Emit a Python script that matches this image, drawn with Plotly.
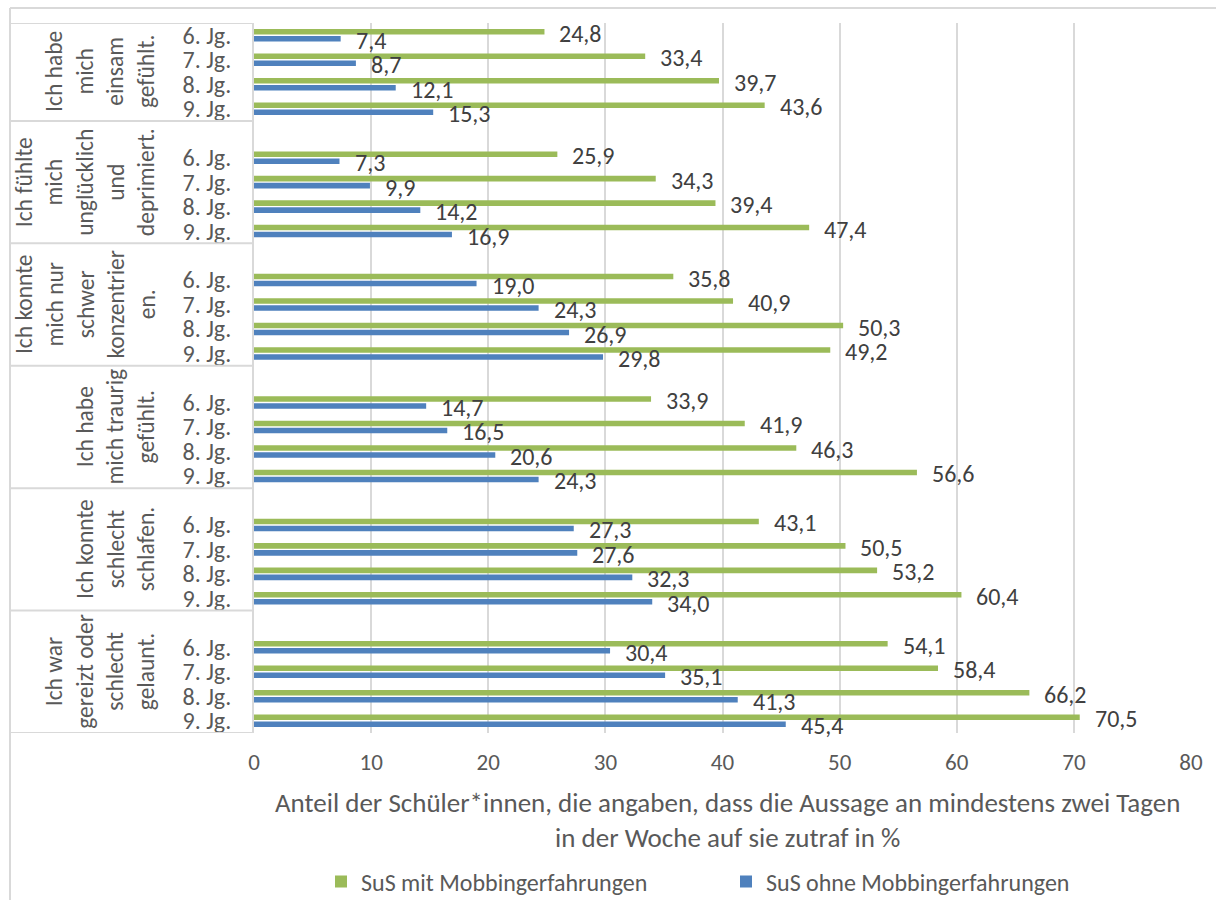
import plotly.graph_objects as go

groups = [
    "Ich habe<br>mich<br>einsam<br>gefühlt.",
    "Ich fühlte<br>mich<br>unglücklich<br>und<br>deprimiert.",
    "Ich konnte<br>mich nur<br>schwer<br>konzentrier<br>en.",
    "Ich habe<br>mich traurig<br>gefühlt.",
    "Ich konnte<br>schlecht<br>schlafen.",
    "Ich war<br>gereizt oder<br>schlecht<br>gelaunt.",
]
grades = ["6. Jg.", "7. Jg.", "8. Jg.", "9. Jg."]

mit = [
    [24.8, 33.4, 39.7, 43.6],
    [25.9, 34.3, 39.4, 47.4],
    [35.8, 40.9, 50.3, 49.2],
    [33.9, 41.9, 46.3, 56.6],
    [43.1, 50.5, 53.2, 60.4],
    [54.1, 58.4, 66.2, 70.5],
]
ohne = [
    [7.4, 8.7, 12.1, 15.3],
    [7.3, 9.9, 14.2, 16.9],
    [19.0, 24.3, 26.9, 29.8],
    [14.7, 16.5, 20.6, 24.3],
    [27.3, 27.6, 32.3, 34.0],
    [30.4, 35.1, 41.3, 45.4],
]
series_names = ["SuS mit Mobbingerfahrungen", "SuS ohne Mobbingerfahrungen"]
x_ticks = [0, 10, 20, 30, 40, 50, 60, 70, 80]
x_title = ("Anteil der Schüler*innen, die angaben, dass die Aussage an mindestens zwei Tagen"
           "<br>in der Woche auf sie zutraf in %")

GREEN = "#9BBB59"
BLUE = "#4F81BD"
GRID = "#D9D9D9"
FONT = "Carlito, Calibri, Lato, sans-serif"

# slot positions: each group has 4 grade slots, separated by one empty slot
pos, mit_flat, ohne_flat, tick_txt = [], [], [], []
for g in range(len(groups)):
    for j in range(len(grades)):
        pos.append(g * 5 + j)
        mit_flat.append(mit[g][j])
        ohne_flat.append(ohne[g][j])
        tick_txt.append(grades[j])

W, H = 1216, 900
L, R, T, B = 254, 25, 23, 167
PW, PH = W - L - R, H - T - B


def px2x(px):
    return (px - L) / PW


def py2y(py):
    return (H - B - py) / PH


def fmt(v):
    return f"{v:.1f}".replace(".", ",")


fig = go.Figure()
fig.add_trace(go.Bar(y=pos, x=mit_flat, orientation="h", name=series_names[0],
                     marker=dict(color=GREEN, line=dict(width=0))))
fig.add_trace(go.Bar(y=pos, x=ohne_flat, orientation="h", name=series_names[1],
                     marker=dict(color=BLUE, line=dict(width=0))))

annotations = []
off = 0.143
for p, vm, vo in zip(pos, mit_flat, ohne_flat):
    for v, dy in ((vm, -off), (vo, off)):
        annotations.append(dict(x=v, y=p + dy, xref="x", yref="y", text=fmt(v),
                                showarrow=False, xanchor="left", yanchor="middle",
                                xshift=13, yshift=-1.5,
                                font=dict(family=FONT, size=24, color="#404040")))

# group labels (rotated)
shapes = []
bounds = [-0.5] + [g * 5 + 3.5 for g in range(len(groups))]
for g, txt in enumerate(groups):
    yc = (bounds[g] + bounds[g + 1]) / 2
    annotations.append(dict(x=px2x(162), y=yc, xref="paper", yref="y", text=txt,
                            showarrow=False, textangle=-90, xanchor="right",
                            yanchor="middle", align="center",
                            font=dict(family=FONT, size=23.5, color="#595959")))
for b in bounds:
    shapes.append(dict(type="line", xref="paper", yref="y", x0=px2x(10), x1=0,
                       y0=b, y1=b, line=dict(color=GRID, width=2)))

# chart border (top & left)
shapes.append(dict(type="line", xref="paper", yref="paper", x0=px2x(10), x1=px2x(1216),
                   y0=py2y(8), y1=py2y(8), line=dict(color=GRID, width=2)))
shapes.append(dict(type="line", xref="paper", yref="paper", x0=px2x(10), x1=px2x(10),
                   y0=py2y(8), y1=py2y(900), line=dict(color=GRID, width=2)))

# axis title
annotations.append(dict(x=px2x(727), y=py2y(820), xref="paper", yref="paper",
                        text=x_title, showarrow=False, xanchor="center", yanchor="middle",
                        align="center",
                        font=dict(family=FONT, size=27, color="#595959")))

fig.update_layout(
    width=W, height=H,
    margin=dict(l=L, r=R, t=T, b=B, autoexpand=False),
    paper_bgcolor="white", plot_bgcolor="white",
    barmode="group", bargap=0.428, bargroupgap=0.21,
    showlegend=True,
    legend=dict(orientation="h", x=px2x(321), y=py2y(882), xanchor="left",
                yanchor="middle", entrywidth=360, entrywidthmode="pixels",
                itemwidth=30, traceorder="normal",
                font=dict(family=FONT, size=24, color="#595959")),
    annotations=annotations,
    shapes=shapes,
    xaxis=dict(range=[0, 80], tickvals=x_ticks, showgrid=True, gridcolor=GRID,
               gridwidth=2, zeroline=False, showline=False,
               ticklabelstandoff=13,
               tickfont=dict(family=FONT, size=23, color="#595959")),
    yaxis=dict(range=[28.5, -0.5], tickvals=pos, ticktext=tick_txt, showgrid=False,
               zeroline=False, showline=True, linecolor=GRID, linewidth=2,
               ticks="", ticklabelstandoff=16,
               tickfont=dict(family=FONT, size=24, color="#595959")),
)

fig.write_html("out.html", config={"displayModeBar": False},
               post_script="document.body.style.margin='0px';")
